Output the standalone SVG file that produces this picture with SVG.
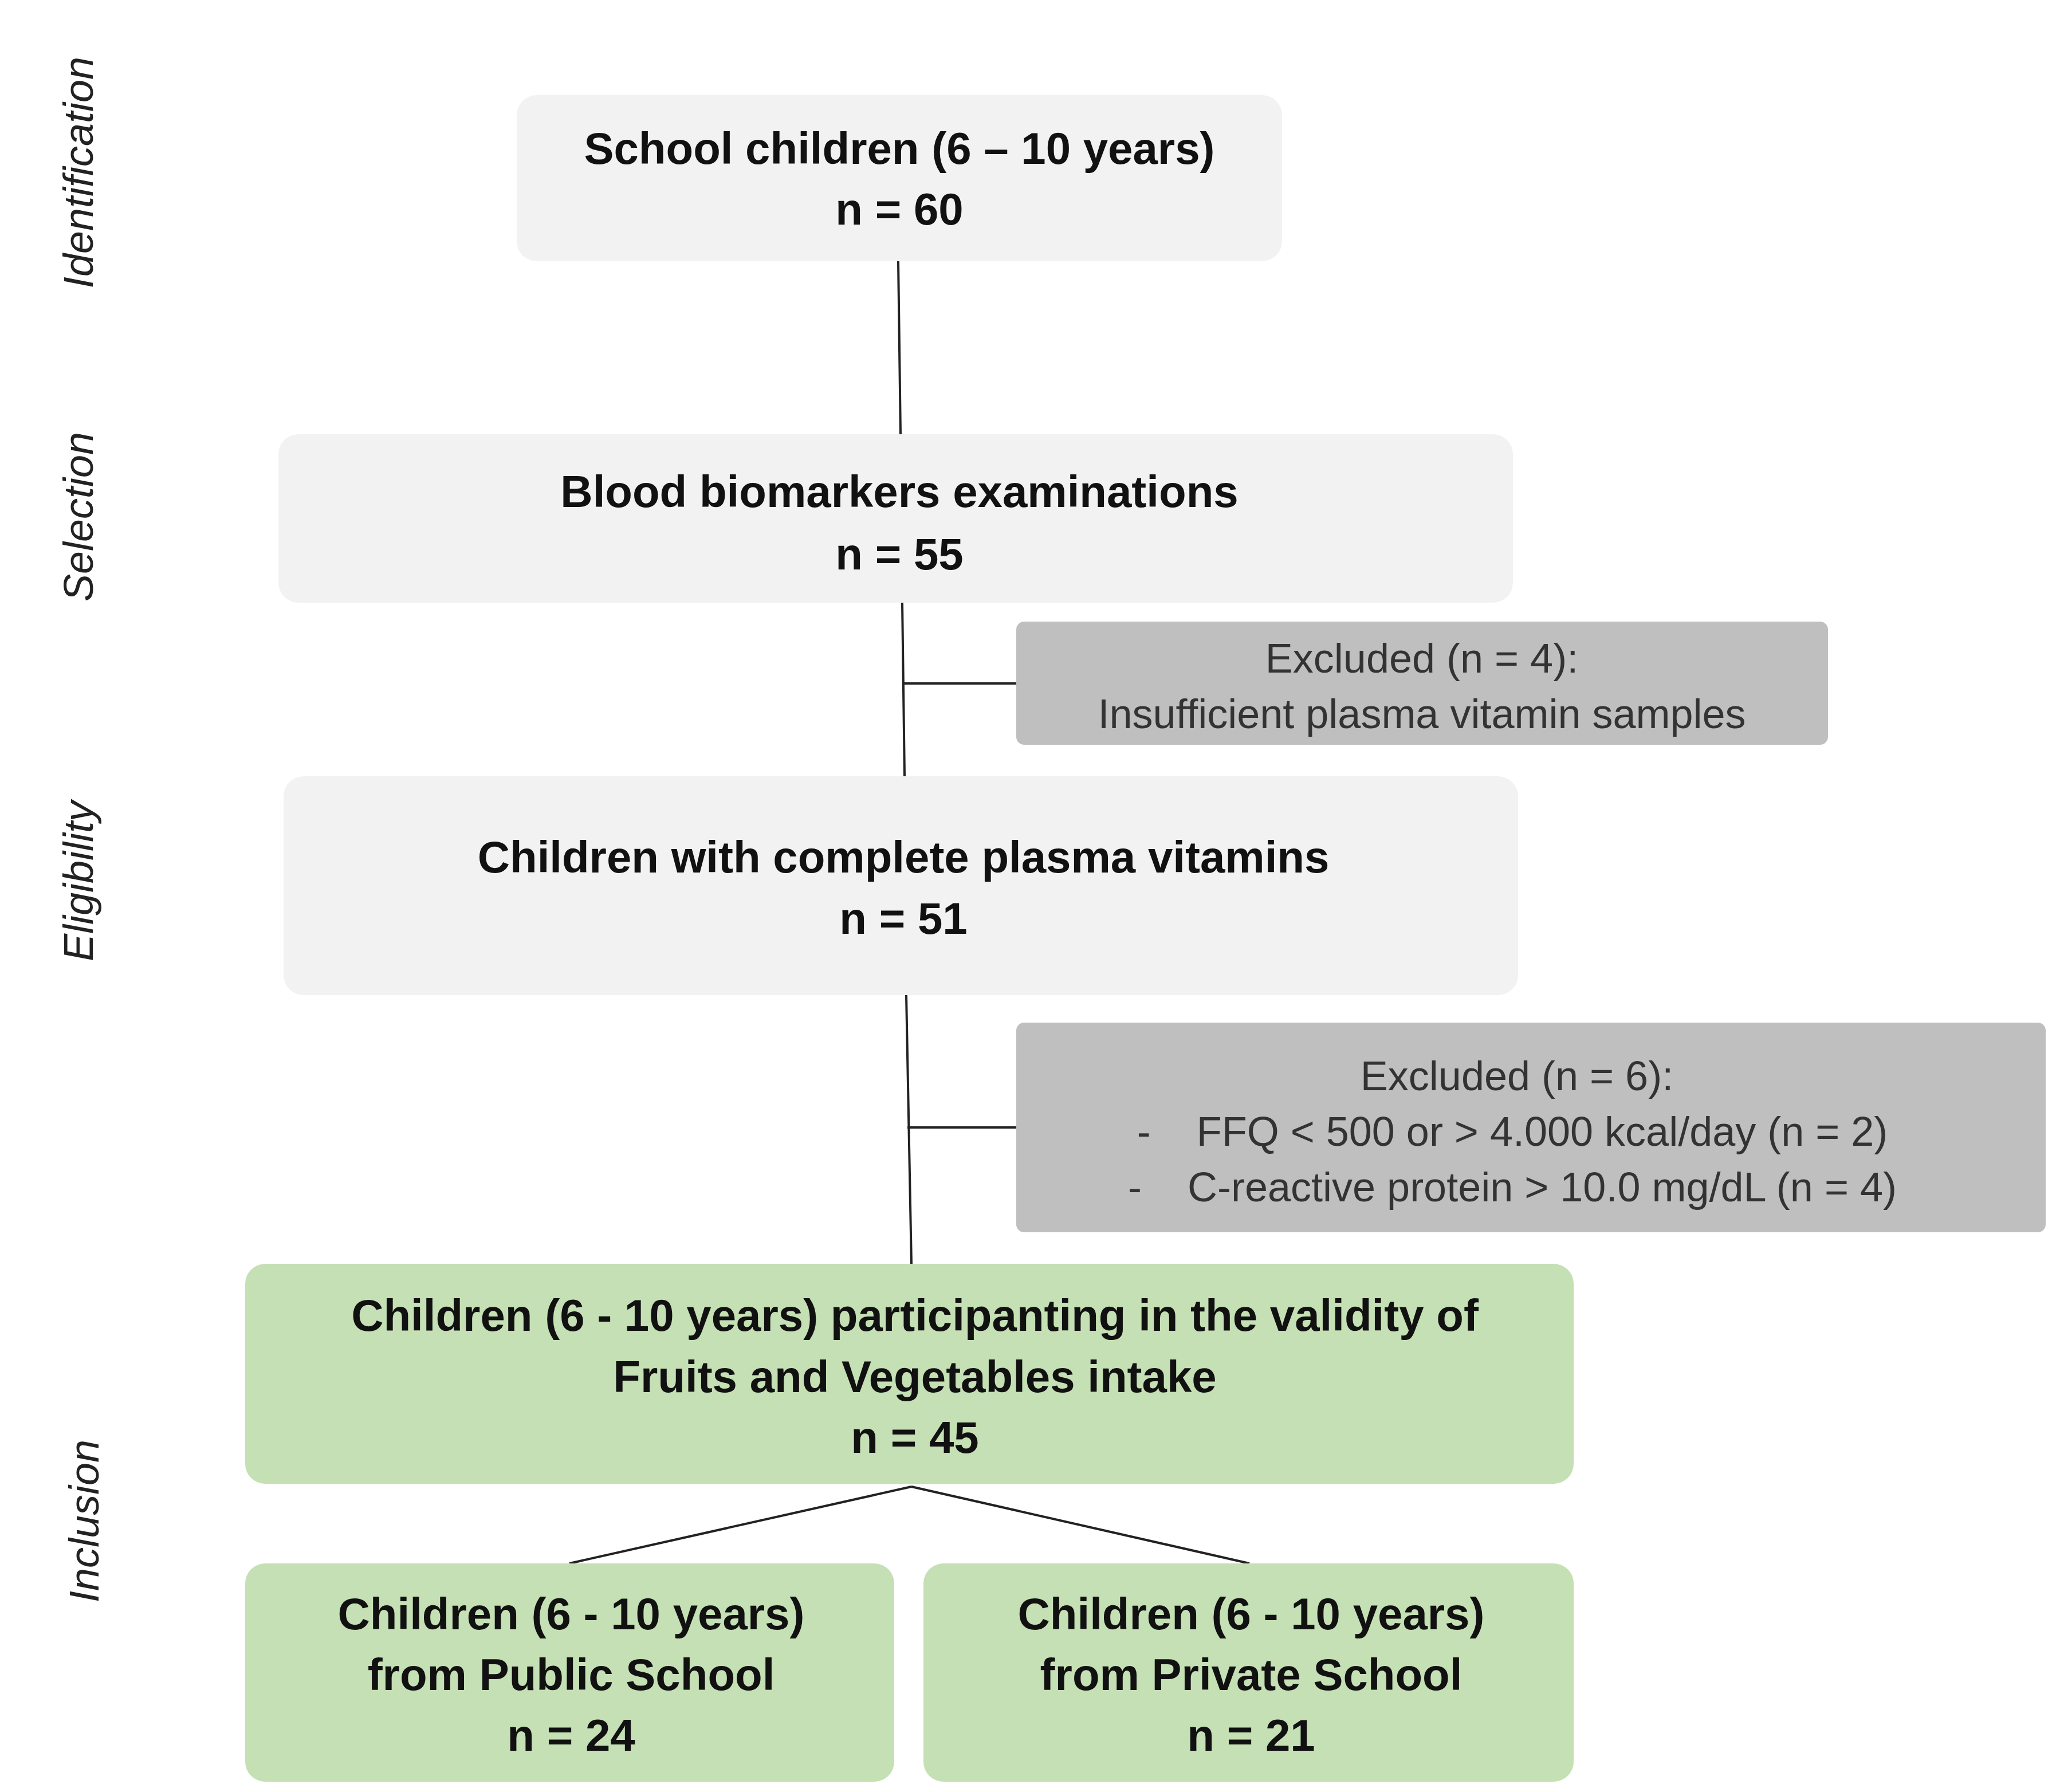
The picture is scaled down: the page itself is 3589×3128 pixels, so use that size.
<svg xmlns="http://www.w3.org/2000/svg" width="3589" height="3128" viewBox="0 0 3589 3128">
<style>
.l{fill:#f2f2f2}.g{fill:#bfbfbf}.gr{fill:#c5e0b4}
text{font-family:"Liberation Sans",Arial,sans-serif;text-anchor:middle}
.b{font-weight:bold;font-size:78px;fill:#111}
.n{font-size:72px;fill:#333}
.s{font-style:italic;font-size:72px;fill:#222}
line{stroke:#222;stroke-width:4}
</style>
<rect width="3589" height="3128" fill="#fff"/>
<g id="side">
<text class="s" transform="translate(162,301) rotate(-90)">Identification</text>
<text class="s" transform="translate(162,902) rotate(-90)">Selection</text>
<text class="s" transform="translate(162,1538) rotate(-90)">Eligibility</text>
<text class="s" transform="translate(172,2655) rotate(-90)">Inclusion</text>
</g>
<g id="connectors">
<line x1="1568" y1="456" x2="1572" y2="758"/>
<line x1="1575" y1="1052" x2="1579" y2="1355"/>
<line x1="1576" y1="1193" x2="1774" y2="1193"/>
<line x1="1582" y1="1737" x2="1591" y2="2206"/>
<line x1="1584" y1="1968" x2="1774" y2="1968"/>
<line x1="1591" y1="2595" x2="994" y2="2729"/>
<line x1="1591" y1="2595" x2="2181" y2="2729"/>
</g>
<g id="n1"><rect class="l" x="902" y="166" width="1336" height="290" rx="35"/>
<text class="b" x="1570" y="286">School children (6 – 10 years)</text>
<text class="b" x="1570" y="392">n = 60</text></g>
<g id="n2"><rect class="l" x="486" y="758" width="2155" height="294" rx="35"/>
<text class="b" x="1570" y="885">Blood biomarkers examinations</text>
<text class="b" x="1570" y="994">n = 55</text></g>
<g id="n3"><rect class="g" x="1774" y="1085" width="1417" height="215" rx="14"/>
<text class="n" x="2482" y="1174">Excluded (n = 4):</text>
<text class="n" x="2482" y="1271">Insufficient plasma vitamin samples</text></g>
<g id="n4"><rect class="l" x="495" y="1355" width="2155" height="382" rx="35"/>
<text class="b" x="1577" y="1523">Children with complete plasma vitamins</text>
<text class="b" x="1577" y="1630">n = 51</text></g>
<g id="n5"><rect class="g" x="1774" y="1785" width="1797" height="366" rx="14"/>
<text class="n" x="2648" y="1903">Excluded (n = 6):</text>
<text class="n" x="2640" y="2000" xml:space="preserve">-    FFQ &lt; 500 or &gt; 4.000 kcal/day (n = 2)</text>
<text class="n" x="2640" y="2097" xml:space="preserve">-    C-reactive protein &gt; 10.0 mg/dL (n = 4)</text></g>
<g id="n6"><rect class="gr" x="428" y="2206" width="2319" height="384" rx="35"/>
<text class="b" x="1597" y="2323">Children (6 - 10 years) participanting in the validity of</text>
<text class="b" x="1597" y="2430">Fruits and Vegetables intake</text>
<text class="b" x="1597" y="2536">n = 45</text></g>
<g id="n7"><rect class="gr" x="428" y="2729" width="1133" height="381" rx="35"/>
<text class="b" x="997" y="2844">Children (6 - 10 years)</text>
<text class="b" x="997" y="2950">from Public School</text>
<text class="b" x="997" y="3056">n = 24</text></g>
<g id="n8"><rect class="gr" x="1612" y="2729" width="1135" height="381" rx="35"/>
<text class="b" x="2184" y="2844">Children (6 - 10 years)</text>
<text class="b" x="2184" y="2950">from Private School</text>
<text class="b" x="2184" y="3056">n = 21</text></g>
</svg>
